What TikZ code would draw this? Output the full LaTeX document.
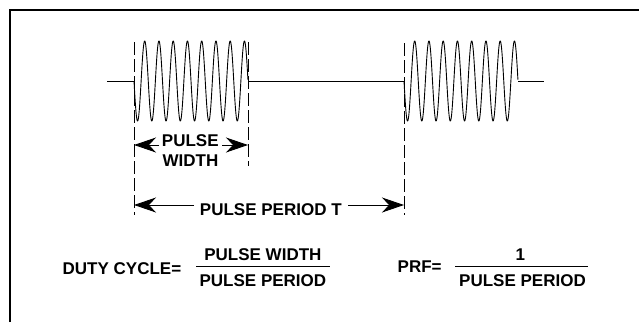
\documentclass[tikz,border=0pt]{standalone}
\usepackage{fontspec}
\setmainfont{Liberation Sans}
\usetikzlibrary{arrows.meta}
\begin{document}
\begin{tikzpicture}[x=1pt,y=-1pt,
  lbl/.style={inner sep=0pt, anchor=base, font=\fontsize{17}{20}\selectfont\bfseries},
  wave/.style={line width=0.9pt, line join=round},
  guide/.style={line width=1pt, dash pattern=on 13pt off 4pt},
  dim/.style={line width=0.9pt, -{Stealth[length=22pt,width=15pt,inset=7pt]}},
  frac/.style={line width=1pt}]
\useasboundingbox (0,0) rectangle (639,322);
% frame
\draw[line width=2pt] (9.5,322) -- (9.5,10) -- (639,10);
% signal
\coordinate (l0) at (107,81);
\coordinate (p1s) at (134,81);
\coordinate (p1e) at (248,81);
\coordinate (p2s) at (404,81);
\coordinate (p2e) at (518,81);
\coordinate (r0) at (544,81);
\draw[wave] (l0) -- (p1s);
\draw[wave] plot[domain=0:8, samples=500] ({134+\x*14.25}, {81+40*sin(360*\x)});
\draw[wave] (p1e) -- (p2s);
\draw[wave] plot[domain=0:8, samples=500] ({404+\x*14.25}, {81+40*sin(360*\x)});
\draw[wave] (p2e) -- (r0);
% guide lines
\coordinate (g1t) at (134,42); \coordinate (g1b) at (134,215);
\coordinate (g2t) at (248,42); \coordinate (g2b) at (248,166);
\coordinate (g3t) at (404,43); \coordinate (g3b) at (404,215);
\draw[guide] (g1t) -- (g1b);
\draw[guide] (g2t) -- (g2b);
\draw[guide] (g3t) -- (g3b);
% pulse width
\node[lbl] (pw1) at (190.3,146) {PULSE};
\node[lbl] (pw2) at (190.5,166.5) {WIDTH};
\coordinate (pwl) at (134,145);
\coordinate (pwr) at (248,145);
\coordinate (pwla) at (159,145);
\coordinate (pwra) at (222,145);
\draw[dim] (pwla) -- (pwl);
\draw[dim] (pwra) -- (pwr);
% pulse period
\node[lbl] (pp) at (270.8,215) {PULSE PERIOD T};
\coordinate (ppl) at (134,205);
\coordinate (ppr) at (404,205);
\coordinate (ppla) at (194,205);
\coordinate (ppra) at (348,205);
\draw[dim] (ppla) -- (ppl);
\draw[dim] (ppra) -- (ppr);
% duty cycle
\node[lbl, anchor=base west] (dc) at (62.5,274.3) {DUTY CYCLE=};
\node[lbl] (dcn) at (262.9,260) {PULSE WIDTH};
\node[lbl] (dcd) at (262.9,286) {PULSE PERIOD};
\coordinate (dcl1) at (196,266); \coordinate (dcl2) at (329.5,266);
\draw[frac] (dcl1) -- (dcl2);
% PRF
\node[lbl, anchor=base west] (prf) at (397.5,272.7) {PRF=};
\node[lbl] (prfn) at (520.3,260.7) {1};
\node[lbl] (prfd) at (522.5,286) {PULSE PERIOD};
\coordinate (pfl1) at (455,266); \coordinate (pfl2) at (587.5,266);
\draw[frac] (pfl1) -- (pfl2);
\end{tikzpicture}
\end{document}
